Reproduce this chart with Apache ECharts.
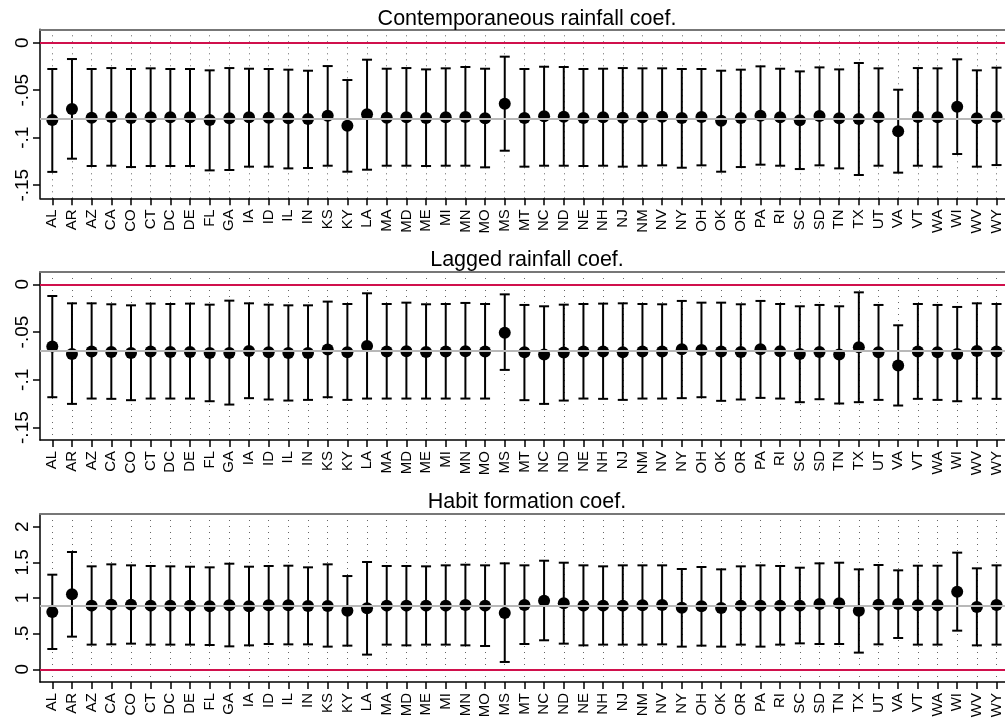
<!DOCTYPE html>
<html>
<head>
<meta charset="utf-8">
<script src="https://cdn.jsdelivr.net/npm/echarts@6/dist/echarts.min.js"></script>
<style>html,body{margin:0;padding:0;background:#fff}#c{width:1005px;height:722px}</style>
</head>
<body>
<div id="c"></div>
<script>
const states = ["AL","AR","AZ","CA","CO","CT","DC","DE","FL","GA","IA","ID","IL","IN","KS","KY","LA","MA","MD","ME","MI","MN","MO","MS","MT","NC","ND","NE","NH","NJ","NM","NV","NY","OH","OK","OR","PA","RI","SC","SD","TN","TX","UT","VA","VT","WA","WI","WV","WY"];

const titles = ["Contemporaneous rainfall coef.", "Lagged rainfall coef.", "Habit formation coef."];

// Panel 1: contemporaneous rainfall
const contEst = [-0.0814,-0.0698,-0.0789,-0.0782,-0.0793,-0.0786,-0.0786,-0.0786,-0.0814,-0.0796,-0.0786,-0.0789,-0.0796,-0.0804,-0.0768,-0.0874,-0.0754,-0.0789,-0.0786,-0.0793,-0.0786,-0.0782,-0.0796,-0.0642,-0.0793,-0.0775,-0.0779,-0.0793,-0.0786,-0.0789,-0.0786,-0.0779,-0.0793,-0.0782,-0.0821,-0.0793,-0.0768,-0.0786,-0.0817,-0.0772,-0.0796,-0.0804,-0.0786,-0.0933,-0.0782,-0.0786,-0.0674,-0.0796,-0.0782];
const contHi = [-0.0277,-0.0172,-0.0277,-0.0267,-0.0277,-0.027,-0.0277,-0.0277,-0.0291,-0.0267,-0.0274,-0.0277,-0.0284,-0.0295,-0.0246,-0.0393,-0.0179,-0.0274,-0.0267,-0.0281,-0.027,-0.0256,-0.0274,-0.0147,-0.0277,-0.0253,-0.0256,-0.0277,-0.0274,-0.0267,-0.027,-0.027,-0.0277,-0.0277,-0.0295,-0.0284,-0.0249,-0.0274,-0.0302,-0.026,-0.0281,-0.0214,-0.027,-0.0495,-0.0267,-0.027,-0.0175,-0.0291,-0.0263];
const contLo = [-0.136,-0.1221,-0.1298,-0.1295,-0.1309,-0.1298,-0.1298,-0.1298,-0.1344,-0.134,-0.1305,-0.1305,-0.1323,-0.1319,-0.1295,-0.1358,-0.1337,-0.1295,-0.1295,-0.1298,-0.1295,-0.1295,-0.1312,-0.1137,-0.1305,-0.1295,-0.1295,-0.1298,-0.1295,-0.1305,-0.1295,-0.1291,-0.1316,-0.1291,-0.1358,-0.1309,-0.1284,-0.1295,-0.133,-0.1291,-0.1323,-0.1393,-0.1295,-0.1368,-0.1295,-0.1305,-0.1172,-0.1305,-0.1288];

// Panel 2: lagged rainfall
const lagEst = [-0.0652,-0.0729,-0.0704,-0.0708,-0.0718,-0.0704,-0.0708,-0.0708,-0.0718,-0.0718,-0.0697,-0.0711,-0.0718,-0.0718,-0.0683,-0.0711,-0.0645,-0.0704,-0.0701,-0.0708,-0.0704,-0.0701,-0.0704,-0.0506,-0.0711,-0.0736,-0.0715,-0.0704,-0.0704,-0.0711,-0.0704,-0.0704,-0.068,-0.0687,-0.0704,-0.0708,-0.068,-0.0701,-0.0729,-0.0708,-0.0736,-0.0659,-0.0711,-0.0851,-0.0704,-0.0711,-0.0729,-0.0697,-0.0704];
const lagHi = [-0.0122,-0.0199,-0.0199,-0.0209,-0.022,-0.0202,-0.0206,-0.0202,-0.0213,-0.0171,-0.0199,-0.0213,-0.022,-0.022,-0.0181,-0.0206,-0.0094,-0.0206,-0.0192,-0.0209,-0.0206,-0.0195,-0.0206,-0.0105,-0.0216,-0.023,-0.0213,-0.0206,-0.0202,-0.0199,-0.0206,-0.0209,-0.0174,-0.0192,-0.0192,-0.0209,-0.0174,-0.0206,-0.023,-0.0216,-0.023,-0.0084,-0.0216,-0.0429,-0.0206,-0.0216,-0.0237,-0.0199,-0.0206];
const lagLo = [-0.1182,-0.1252,-0.1196,-0.1199,-0.1213,-0.1196,-0.1196,-0.1196,-0.1224,-0.1259,-0.1192,-0.1206,-0.1217,-0.121,-0.1182,-0.121,-0.1196,-0.1196,-0.1196,-0.1196,-0.1196,-0.1196,-0.1196,-0.0896,-0.1213,-0.1252,-0.1217,-0.1196,-0.1199,-0.121,-0.1196,-0.1196,-0.1192,-0.1182,-0.122,-0.1206,-0.1189,-0.1196,-0.1234,-0.1203,-0.1248,-0.1234,-0.121,-0.1269,-0.1199,-0.121,-0.1224,-0.1196,-0.1199];

// Panel 3: habit formation
const habEst = [0.804,1.051,0.893,0.907,0.907,0.893,0.893,0.893,0.883,0.897,0.883,0.897,0.897,0.888,0.888,0.822,0.855,0.893,0.893,0.893,0.893,0.902,0.893,0.790,0.902,0.963,0.925,0.893,0.893,0.893,0.897,0.902,0.864,0.883,0.860,0.893,0.893,0.893,0.893,0.916,0.925,0.822,0.907,0.916,0.897,0.897,1.089,0.874,0.902];
const habHi = [1.327,1.645,1.444,1.472,1.458,1.449,1.444,1.439,1.430,1.481,1.439,1.449,1.453,1.430,1.472,1.308,1.505,1.449,1.449,1.444,1.458,1.467,1.458,1.486,1.458,1.523,1.495,1.458,1.444,1.458,1.458,1.458,1.407,1.435,1.402,1.444,1.458,1.449,1.425,1.486,1.495,1.402,1.463,1.388,1.453,1.453,1.636,1.416,1.458];
const habLo = [0.285,0.458,0.346,0.350,0.360,0.346,0.346,0.346,0.341,0.322,0.336,0.355,0.350,0.350,0.318,0.332,0.206,0.346,0.336,0.346,0.346,0.336,0.327,0.103,0.355,0.407,0.360,0.336,0.346,0.346,0.346,0.350,0.318,0.332,0.318,0.346,0.318,0.346,0.364,0.355,0.355,0.234,0.350,0.439,0.346,0.346,0.542,0.336,0.346];

// Reference (mean) lines
const meanLines = [-0.0785, -0.0708, 0.889];

// Tick values and labels
const yTicks = [[0,-0.05,-0.1,-0.15],[0,-0.05,-0.1,-0.15],[0,0.5,1,1.5,2]];
const yTickLabels = [["0","-.05","-.1","-.15"],["0","-.05","-.1","-.15"],["0",".5","1","1.5","2"]];
const yRanges = [[-0.1638,0.0141],[-0.163,0.0129],[-0.178,2.178]];

const panels = [
  {est: contEst, lo: contLo, hi: contHi},
  {est: lagEst, lo: lagLo, hi: lagHi},
  {est: habEst, lo: habLo, hi: habHi}
];

const grids = [
  {left: 40, right: 0, top: 29.3, height: 169},
  {left: 40, right: 0, top: 272, height: 168},
  {left: 40, right: 0, top: 514, height: 168}
];
const titleTops = [3, 244, 486];

const xIdx = states.map((s, i) => i + 1);
const xMin = 0.375, xMax = 49.43;
const FONT = '"Liberation Sans", Arial, Helvetica, sans-serif';

function errorBar(params, api) {
  const x = api.value(0), lo = api.value(1), hi = api.value(2);
  const p1 = api.coord([x, hi]);
  const p2 = api.coord([x, lo]);
  const cw = 5;
  const st = {stroke: '#000', lineWidth: 2};
  return {
    type: 'group',
    children: [
      {type: 'line', shape: {x1: p1[0], y1: p1[1], x2: p2[0], y2: p2[1]}, style: st},
      {type: 'line', shape: {x1: p1[0] - cw, y1: p1[1], x2: p1[0] + cw, y2: p1[1]}, style: st},
      {type: 'line', shape: {x1: p2[0] - cw, y1: p2[1], x2: p2[0] + cw, y2: p2[1]}, style: st}
    ]
  };
}

const option = {
  animation: false,
  backgroundColor: '#fff',
  title: titles.map((t, i) => ({
    text: t, left: 522, top: titleTops[i], textAlign: 'center',
    textStyle: {fontFamily: FONT, fontSize: 21.5, fontWeight: 'normal', color: '#000'}
  })),
  grid: grids,
  xAxis: [],
  yAxis: [],
  series: []
};

panels.forEach((p, i) => {
  option.xAxis.push({
    type: 'value', gridIndex: i, min: xMin, max: xMax, position: 'bottom',
    axisLine: {show: true, onZero: false, lineStyle: {color: '#000', width: 1.5}},
    axisTick: {show: true, length: 7, customValues: xIdx, lineStyle: {color: '#000', width: 1.5}},
    axisLabel: {show: true, customValues: xIdx, rotate: 90, margin: 11, fontFamily: FONT, fontSize: 15, color: '#000',
      formatter: v => states[Math.round(v) - 1] || ''},
    splitLine: {show: true, lineStyle: {color: '#666', width: 1, type: [1, 5]}}
  });
  option.xAxis.push({
    type: 'value', gridIndex: i, min: xMin, max: xMax, position: 'top',
    axisLine: {show: true, onZero: false, lineStyle: {color: '#777', width: 2}},
    axisTick: {show: false}, axisLabel: {show: false}, splitLine: {show: false}
  });
  option.yAxis.push({
    type: 'value', gridIndex: i, min: yRanges[i][0], max: yRanges[i][1],
    axisLine: {show: true, onZero: false, lineStyle: {color: '#000', width: 1.5}},
    axisTick: {show: true, length: 7, customValues: yTicks[i], lineStyle: {color: '#000', width: 1.5}},
    axisLabel: {show: true, customValues: yTicks[i], rotate: 90, margin: 8, fontFamily: FONT, fontSize: 19, color: '#000',
      formatter: v => { const k = yTicks[i].findIndex(t => Math.abs(t - v) < 1e-9); return k >= 0 ? yTickLabels[i][k] : ''; }},
    splitLine: {show: false}
  });
  const bx = i * 2;
  option.series.push({
    type: 'line', xAxisIndex: bx, yAxisIndex: i, data: [], z: 1, silent: true,
    markLine: {
      silent: true, symbol: 'none', label: {show: false}, animation: false,
      data: [
        {yAxis: meanLines[i], lineStyle: {color: '#b8b8b8', width: 2, type: 'solid'}},
        {yAxis: 0, lineStyle: {color: '#d0104c', width: 2, type: 'solid'}}
      ]
    }
  });
  option.series.push({
    type: 'custom', xAxisIndex: bx, yAxisIndex: i, z: 3, silent: true,
    renderItem: errorBar,
    encode: {x: 0, y: [1, 2]},
    data: xIdx.map((x, k) => [x, p.lo[k], p.hi[k]])
  });
  option.series.push({
    type: 'scatter', xAxisIndex: bx, yAxisIndex: i, z: 4, silent: true,
    symbol: 'circle', symbolSize: 12,
    itemStyle: {color: '#000', opacity: 1},
    data: xIdx.map((x, k) => [x, p.est[k]])
  });
});

const chart = echarts.init(document.getElementById('c'), null, {renderer: 'canvas'});
chart.setOption(option);
</script>
</body>
</html>
